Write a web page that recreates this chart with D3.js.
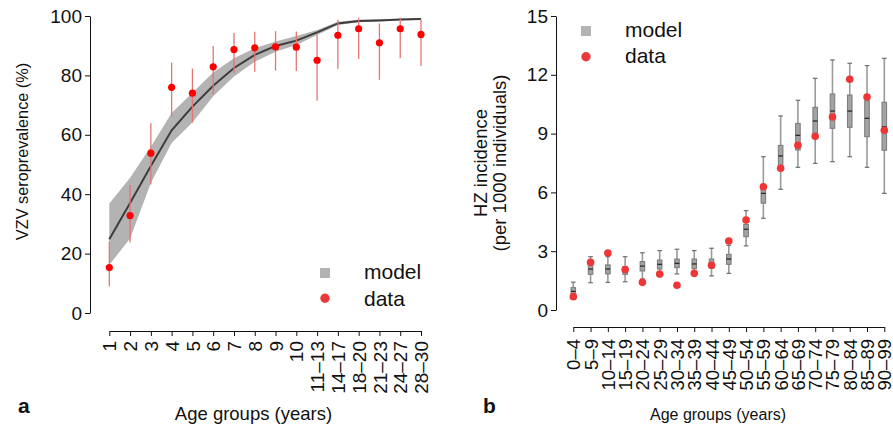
<!DOCTYPE html>
<html>
<head>
<meta charset="utf-8">
<script src="https://cdn.jsdelivr.net/npm/d3@7"></script>
<style>
  body { margin: 0; background: #fff; }
  svg { display: block; }
  text { font-family: "Liberation Sans", Arial, Helvetica, sans-serif; fill: #111; }
</style>
</head>
<body>
<svg id="fig" width="893" height="430"></svg>
<script>
// ---- Panel a: VZV seroprevalence by age group ----
const seroAges = ["1", "2", "3", "4", "5", "6", "7", "8", "9", "10",
                  "11–13", "14–17", "18–20", "21–23", "24–27", "28–30"];
const seroModelMean = [24.8, 37.0, 49.5, 61.5, 69.5, 76.5, 82.5, 86.9, 89.9, 91.7, 94.5, 97.5, 98.3, 98.5, 98.8, 99.0];
const seroModelLow  = [16.2, 25.1, 43.8, 57.2, 64.1, 73.0, 79.6, 84.6, 88.0, 90.2, 93.6, 97.0, 97.9, 98.2, 98.5, 98.7];
const seroModelHigh = [36.9, 45.5, 56.0, 67.3, 74.2, 81.0, 85.8, 89.1, 91.4, 93.3, 95.3, 98.1, 98.7, 98.9, 99.1, 99.3];
const seroData      = [15.3, 32.8, 53.8, 76.0, 74.0, 82.9, 88.7, 89.3, 89.6, 89.5, 85.1, 93.5, 95.7, 91.0, 95.7, 93.8];
const seroDataLow   = [8.9, 23.7, 43.3, 66.1, 64.1, 73.6, 80.7, 81.2, 81.6, 81.5, 71.5, 82.2, 85.5, 78.5, 85.8, 83.2];
const seroDataHigh  = [24.0, 43.1, 63.9, 84.3, 82.3, 89.9, 94.3, 94.7, 94.9, 94.8, 93.8, 98.7, 99.4, 97.5, 99.4, 98.9];
const seroTicks = [0, 20, 40, 60, 80, 100];

// ---- Panel b: HZ incidence by age group ----
const hzAges = ["0–4", "5–9", "10–14", "15–19", "20–24", "25–29", "30–34", "35–39", "40–44",
                "45–49", "50–54", "55–59", "60–64", "65–69", "70–74", "75–79", "80–84", "85–89", "90–99"];
const hzWhiskLow  = [0.55, 1.39, 1.41, 1.44, 1.58, 1.70, 1.84, 1.74, 1.74, 1.87, 3.27, 4.68, 6.16, 7.28, 7.48, 7.57, 7.82, 7.28, 5.95];
const hzQ1        = [0.78, 1.82, 1.84, 1.82, 1.99, 2.09, 2.16, 2.11, 2.13, 2.33, 3.74, 5.45, 7.38, 8.16, 8.98, 9.27, 9.32, 8.84, 8.15];
const hzMedian    = [0.95, 2.09, 2.09, 2.04, 2.24, 2.33, 2.38, 2.35, 2.38, 2.60, 4.12, 5.95, 7.86, 8.91, 9.64, 10.15, 10.15, 9.78, 9.35];
const hzQ3        = [1.14, 2.30, 2.30, 2.21, 2.47, 2.55, 2.60, 2.60, 2.60, 2.84, 4.37, 6.20, 8.40, 9.52, 10.34, 11.02, 10.97, 10.68, 10.60];
const hzWhiskHigh = [1.42, 2.72, 2.72, 2.72, 2.92, 3.03, 3.10, 3.03, 3.15, 3.30, 5.07, 7.82, 9.90, 10.70, 11.82, 12.76, 12.59, 12.47, 12.84];
const hzData      = [0.68, 2.43, 2.91, 2.06, 1.41, 1.84, 1.26, 1.87, 2.28, 3.52, 4.59, 6.29, 7.23, 8.40, 8.86, 9.85, 11.77, 10.87, 9.17];
const hzTicks = [0, 3, 6, 9, 12, 15];

const legendLabels = ["model", "data"];

const svg = d3.select("#fig");
const FONT = '"Liberation Sans", Arial, Helvetica, sans-serif';

function styleAxis(g, size) {
  g.select(".domain").attr("stroke", "#111").attr("stroke-width", 1);
  g.selectAll(".tick line").attr("stroke", "#111").attr("stroke-width", 1);
  g.selectAll(".tick text").attr("font-family", FONT).attr("font-size", size).attr("fill", "#111");
}

// ================= Panel a =================
const xA = d3.scalePoint().domain(seroAges).range([109.3, 421]);
const yA = d3.scaleLinear().domain([0, 100]).range([313, 16]);
const gA = svg.append("g");

// model credible band
gA.append("path")
  .datum(seroAges.map((a, i) => ({a, lo: seroModelLow[i], hi: seroModelHigh[i]})))
  .attr("fill", "#b3b3b3")
  .attr("d", d3.area().x(d => xA(d.a)).y0(d => yA(d.lo)).y1(d => yA(d.hi)));

// model mean
gA.append("path")
  .datum(seroAges.map((a, i) => ({a, v: seroModelMean[i]})))
  .attr("fill", "none").attr("stroke", "#3d3d3d").attr("stroke-width", 2)
  .attr("d", d3.line().x(d => xA(d.a)).y(d => yA(d.v)));

// data confidence intervals
gA.selectAll("line.ci").data(seroAges).join("line").attr("class", "ci")
  .attr("x1", d => xA(d)).attr("x2", d => xA(d))
  .attr("y1", (d, i) => yA(seroDataLow[i])).attr("y2", (d, i) => yA(seroDataHigh[i]))
  .attr("stroke", "#e57575").attr("stroke-width", 1.3);

// data points
gA.selectAll("circle.pt").data(seroAges).join("circle").attr("class", "pt")
  .attr("cx", d => xA(d)).attr("cy", (d, i) => yA(seroData[i])).attr("r", 3.6)
  .attr("fill", "#ff0000");

// axes
const axAy = gA.append("g").attr("transform", "translate(90,0)")
  .call(d3.axisLeft(yA).tickValues(seroTicks).tickSize(5).tickSizeOuter(0).tickPadding(3).tickFormat(d3.format("d")));
styleAxis(axAy, 19);

const axAx = gA.append("g").attr("transform", "translate(0,331)")
  .call(d3.axisBottom(xA).tickSize(5).tickSizeOuter(0));
styleAxis(axAx, 19);
axAx.selectAll(".tick text")
  .attr("transform", "rotate(-90)").attr("text-anchor", "end")
  .attr("x", -10).attr("y", 0).attr("dy", "0.35em");

gA.append("text").attr("x", 253.5).attr("y", 420).attr("text-anchor", "middle")
  .attr("font-size", 18.5).text("Age groups (years)");
gA.append("text").attr("transform", "translate(22.5,151.5) rotate(-90)")
  .attr("text-anchor", "middle").attr("dy", "0.35em")
  .attr("font-size", 16.3).text("VZV seroprevalence (%)");
gA.append("text").attr("x", 18).attr("y", 413).attr("font-size", 21)
  .attr("font-weight", "bold").text("a");

// legend a
const legA = gA.append("g");
legA.append("rect").attr("x", 320).attr("y", 268).attr("width", 10).attr("height", 10).attr("fill", "#b3b3b3");
legA.append("circle").attr("cx", 325).attr("cy", 298.3).attr("r", 4.7).attr("fill", "#e83a3a");
legA.selectAll("text").data(legendLabels).join("text")
  .attr("x", 364).attr("y", (d, i) => 279.3 + i * 26.4).attr("font-size", 21).text(d => d);

// ================= Panel b =================
const xB = d3.scalePoint().domain(hzAges).range([573.3, 884.3]);
const yB = d3.scaleLinear().domain([0, 15]).range([310, 16]);
const gB = svg.append("g");
const boxW = 4.6, capW = 4.6;

const boxes = gB.selectAll("g.box").data(hzAges).join("g").attr("class", "box")
  .attr("transform", d => `translate(${xB(d)},0)`);
// whisker stems
boxes.append("line")
  .attr("x1", 0).attr("x2", 0)
  .attr("y1", (d, i) => yB(hzWhiskLow[i])).attr("y2", (d, i) => yB(hzWhiskHigh[i]))
  .attr("stroke", "#9a9a9a").attr("stroke-width", 1.6);
// whisker caps
boxes.append("line")
  .attr("x1", -capW / 2).attr("x2", capW / 2)
  .attr("y1", (d, i) => yB(hzWhiskLow[i])).attr("y2", (d, i) => yB(hzWhiskLow[i]))
  .attr("stroke", "#6e6e6e").attr("stroke-width", 1.2);
boxes.append("line")
  .attr("x1", -capW / 2).attr("x2", capW / 2)
  .attr("y1", (d, i) => yB(hzWhiskHigh[i])).attr("y2", (d, i) => yB(hzWhiskHigh[i]))
  .attr("stroke", "#6e6e6e").attr("stroke-width", 1.2);
// interquartile box
boxes.append("rect")
  .attr("x", -boxW / 2).attr("width", boxW)
  .attr("y", (d, i) => yB(hzQ3[i]))
  .attr("height", (d, i) => yB(hzQ1[i]) - yB(hzQ3[i]))
  .attr("fill", "#a3a3a3").attr("stroke", "#7a7a7a").attr("stroke-width", 1);
// median
boxes.append("line")
  .attr("x1", -boxW / 2).attr("x2", boxW / 2)
  .attr("y1", (d, i) => yB(hzMedian[i])).attr("y2", (d, i) => yB(hzMedian[i]))
  .attr("stroke", "#2a2a2a").attr("stroke-width", 1.3);

// observed incidence
gB.selectAll("circle.pt").data(hzAges).join("circle").attr("class", "pt")
  .attr("cx", d => xB(d)).attr("cy", (d, i) => yB(hzData[i])).attr("r", 3.8)
  .attr("fill", "#ef3535");

const axBy = gB.append("g").attr("transform", "translate(556,0)")
  .call(d3.axisLeft(yB).tickValues(hzTicks).tickSize(5).tickSizeOuter(0).tickPadding(3).tickFormat(d3.format("d")));
styleAxis(axBy, 19);

const axBx = gB.append("g").attr("transform", "translate(0,327)")
  .call(d3.axisBottom(xB).tickSize(5).tickSizeOuter(0));
styleAxis(axBx, 18.5);
axBx.selectAll(".tick text")
  .attr("transform", "rotate(-90)").attr("text-anchor", "end")
  .attr("x", -12).attr("y", 0).attr("dy", "0.35em");

gB.append("text").attr("x", 718).attr("y", 420).attr("text-anchor", "middle")
  .attr("font-size", 16).text("Age groups (years)");
gB.append("text").attr("transform", "translate(481,163) rotate(-90)")
  .attr("text-anchor", "middle").attr("dy", "0.35em")
  .attr("font-size", 18.5).text("HZ incidence");
gB.append("text").attr("transform", "translate(500,163) rotate(-90)")
  .attr("text-anchor", "middle").attr("dy", "0.35em")
  .attr("font-size", 18.5).text("(per 1000 individuals)");
gB.append("text").attr("x", 483).attr("y", 413).attr("font-size", 21)
  .attr("font-weight", "bold").text("b");

// legend b
const legB = gB.append("g");
legB.append("rect").attr("x", 581).attr("y", 26).attr("width", 10).attr("height", 10).attr("fill", "#b3b3b3");
legB.append("circle").attr("cx", 586).attr("cy", 56.7).attr("r", 4.7).attr("fill", "#e83a3a");
legB.selectAll("text").data(legendLabels).join("text")
  .attr("x", 625).attr("y", (d, i) => 37.3 + i * 26).attr("font-size", 21).text(d => d);
</script>
</body>
</html>
